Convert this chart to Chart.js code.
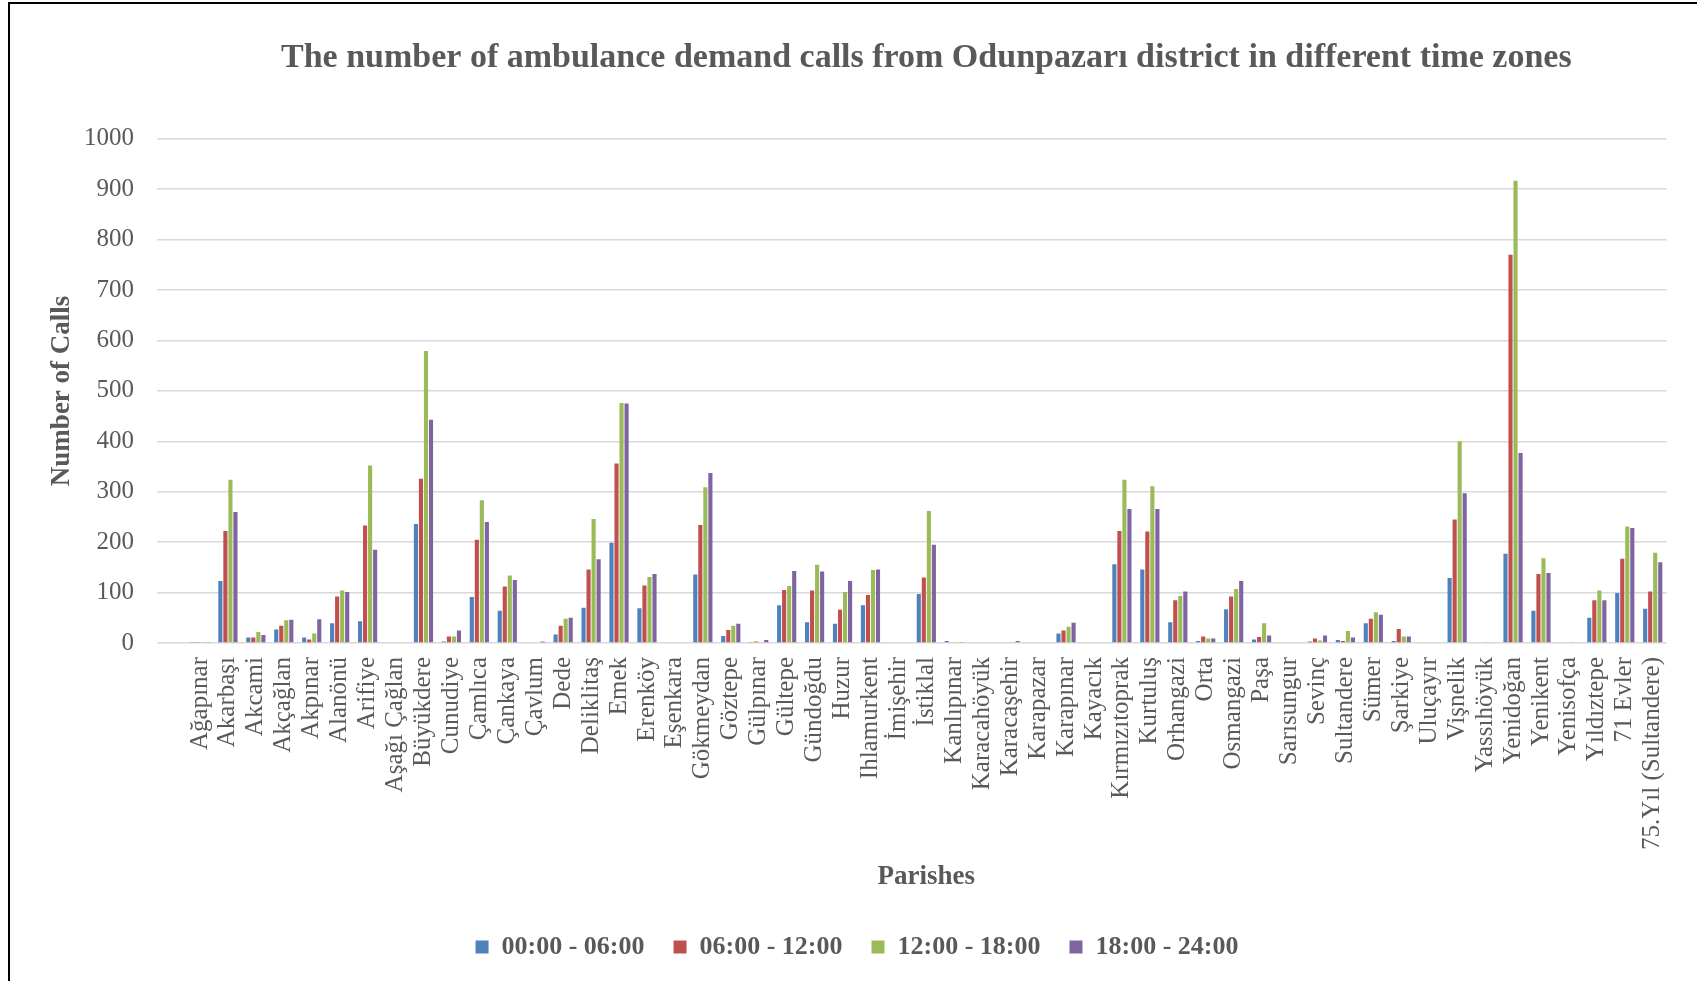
<!DOCTYPE html>
<html>
<head>
<meta charset="utf-8">
<title>Ambulance demand calls - Odunpazarı</title>
<script src="https://cdn.jsdelivr.net/npm/chart.js@4.4.1/dist/chart.umd.min.js"></script>
<style>
    html, body { margin: 0; padding: 0; background: #fff; overflow: hidden; }
    #wrap { position: relative; width: 1697px; height: 981px; }
    #frame { position: absolute; left: 8px; top: 2px; right: -4px; bottom: -4px;
             border-left: 2px solid #000; border-top: 2px solid #000; pointer-events: none; }
</style>
</head>
<body>
<div id="wrap">
    <canvas id="callsChart" width="1697" height="981"></canvas>
    <div id="frame"></div>
</div>
<script>
// Parishes (x categories)
const parishes = [
    'Ağapınar', 'Akarbaşı', 'Akcami', 'Akçağlan', 'Akpınar', 'Alanönü', 'Arifiye', 'Aşağı Çağlan',
    'Büyükdere', 'Cunudiye', 'Çamlıca', 'Çankaya', 'Çavlum', 'Dede', 'Deliklitaş', 'Emek',
    'Erenköy', 'Eşenkara', 'Gökmeydan', 'Göztepe', 'Gülpınar', 'Gültepe', 'Gündoğdu', 'Huzur',
    'Ihlamurkent', 'İmişehir', 'İstiklal', 'Kanlıpınar', 'Karacahöyük', 'Karacaşehir', 'Karapazar',
    'Karapınar', 'Kayacık', 'Kırmızıtoprak', 'Kurtuluş', 'Orhangazi', 'Orta', 'Osmangazi', 'Paşa',
    'Sarısungur', 'Sevinç', 'Sultandere', 'Sümer', 'Şarkiye', 'Uluçayır', 'Vişnelik', 'Yassıhöyük',
    'Yenidoğan', 'Yenikent', 'Yenisofça', 'Yıldıztepe', '71 Evler', '75.Yıl (Sultandere)'
];

// Calls per time zone, same order as parishes
const calls0006 = [
    1, 123, 11, 27, 11, 39, 43, 0, 236, 3, 91, 64, 0, 17, 70, 199, 69, 0, 136, 14, 2, 75, 41, 38,
    75, 0, 97, 4, 0, 0, 0, 19, 0, 156, 146, 41, 4, 67, 7, 0, 3, 6, 39, 4, 0, 129, 0, 177, 64, 0,
    50, 99, 68
];
const calls0612 = [
    2, 222, 11, 34, 7, 92, 233, 0, 326, 13, 205, 112, 0, 34, 146, 356, 114, 0, 234, 26, 3, 105, 104, 66,
    95, 0, 130, 0, 0, 0, 0, 25, 0, 222, 221, 85, 13, 92, 12, 0, 9, 4, 48, 28, 0, 245, 0, 770, 137, 0,
    85, 167, 102
];
const calls1218 = [
    1, 324, 22, 45, 19, 104, 352, 0, 579, 13, 283, 134, 0, 48, 246, 476, 131, 0, 309, 34, 0, 113, 155, 101,
    145, 0, 262, 2, 0, 2, 0, 32, 0, 324, 311, 93, 9, 107, 39, 0, 5, 24, 61, 13, 0, 400, 1, 917, 168, 1,
    104, 231, 179
];
const calls1824 = [
    2, 260, 16, 46, 47, 101, 185, 0, 443, 25, 240, 125, 3, 50, 166, 475, 137, 0, 337, 38, 6, 143, 142, 123,
    146, 0, 195, 2, 0, 4, 0, 40, 0, 266, 266, 102, 9, 123, 15, 0, 15, 11, 56, 13, 0, 297, 0, 377, 139, 0,
    85, 228, 160
];

const timeZones = ['00:00 - 06:00', '06:00 - 12:00', '12:00 - 18:00', '18:00 - 24:00'];
const yTicks = [0, 100, 200, 300, 400, 500, 600, 700, 800, 900, 1000];

const chartTitle = 'The number of ambulance demand calls from Odunpazarı district in different time zones';
const textGray = '#595959';
const serif = '"Liberation Serif", "Times New Roman", serif';

Chart.defaults.font.family = serif;
Chart.defaults.color = textGray;

const colors = ['#4F81BD', '#C0504D', '#9BBB59', '#8064A2'];
const seriesData = [calls0006, calls0612, calls1218, calls1824];

new Chart(document.getElementById('callsChart'), {
    type: 'bar',
    data: {
        labels: parishes,
        datasets: timeZones.map((tz, i) => ({
            label: tz,
            data: seriesData[i],
            backgroundColor: colors[i],
            borderWidth: 0,
            categoryPercentage: 0.72,
            barPercentage: 0.82
        }))
    },
    options: {
        responsive: false,
        devicePixelRatio: 1,
        animation: false,
        layout: { padding: { left: 34, right: 17, top: 0, bottom: 11 } },
        plugins: {
            title: {
                display: true,
                text: chartTitle,
                fullSize: false,
                color: textGray,
                font: { size: 34, weight: 'bold', family: serif },
                padding: { top: 38, bottom: 60 }
            },
            legend: {
                position: 'bottom',
                labels: {
                    boxWidth: 13,
                    boxHeight: 13,
                    padding: 29,
                    color: textGray,
                    font: { size: 26, weight: 'bold', family: serif }
                }
            },
            tooltip: { enabled: false }
        },
        scales: {
            x: {
                grid: { display: false, drawTicks: false },
                border: { display: false },
                ticks: {
                    autoSkip: false,
                    minRotation: 90,
                    maxRotation: 90,
                    padding: 14,
                    color: textGray,
                    font: { size: 25 }
                },
                title: {
                    display: true,
                    text: 'Parishes',
                    color: textGray,
                    font: { size: 27, weight: 'bold' },
                    padding: { top: 4, bottom: 12 }
                },
                afterFit: (scale) => { scale.height = 262; }
            },
            y: {
                min: 0,
                max: 1000,
                grid: { color: '#D9D9D9', lineWidth: 1.5, drawTicks: true, tickLength: 29 },
                border: { display: false },
                ticks: {
                    stepSize: 100,
                    padding: 23,
                    color: textGray,
                    font: { size: 25 },
                    callback: (v) => yTicks.includes(v) ? String(v) : ''
                },
                title: {
                    display: true,
                    text: 'Number of Calls',
                    color: textGray,
                    font: { size: 27, weight: 'bold' },
                    padding: { top: 12, bottom: 4 }
                },
                afterFit: (scale) => { scale.width = 152; }
            }
        }
    }
});
</script>
</body>
</html>
